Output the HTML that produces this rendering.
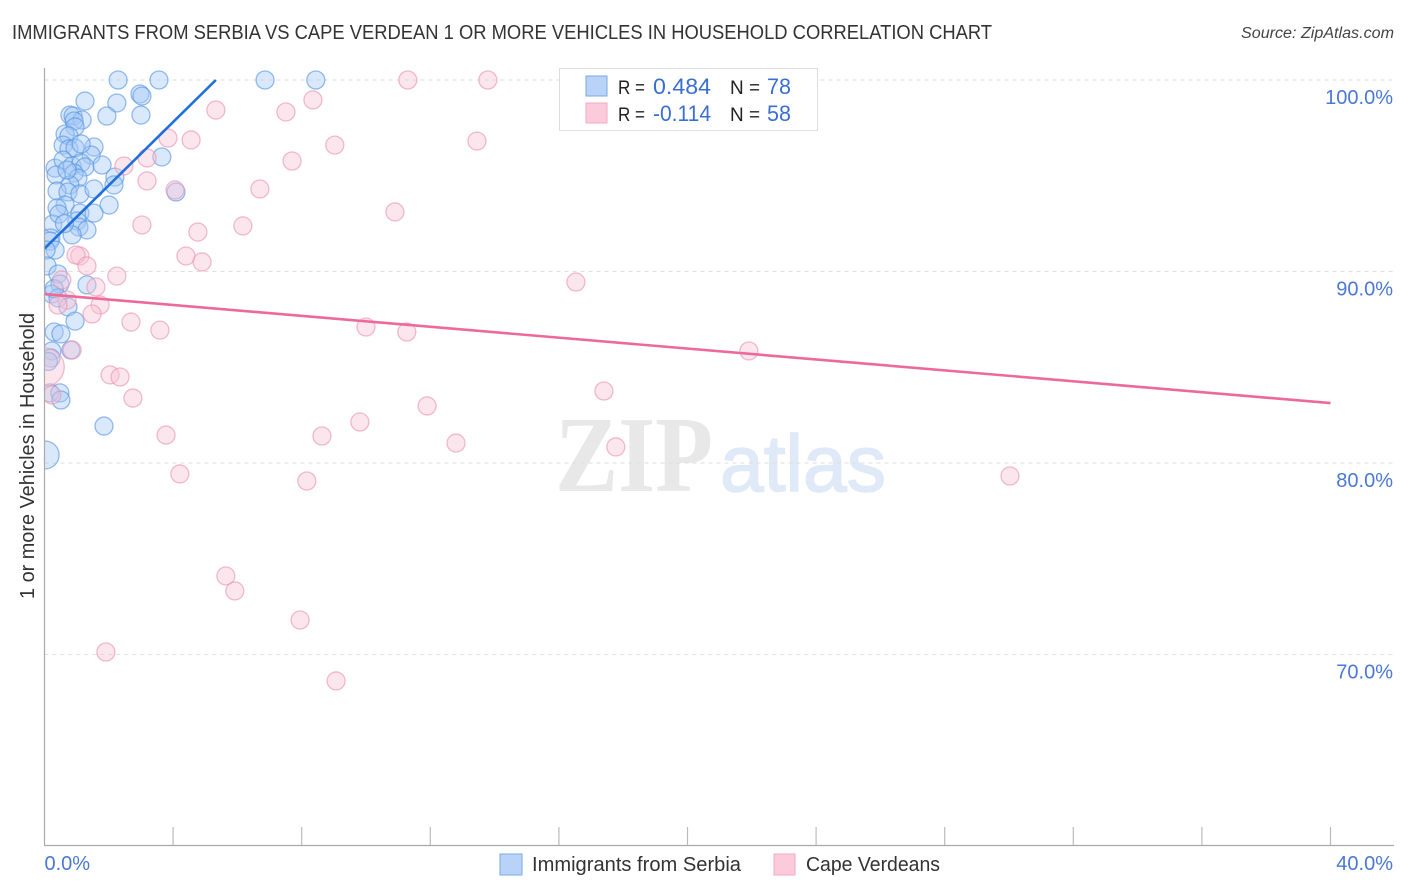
<!DOCTYPE html>
<html lang="en">
<head>
<meta charset="utf-8">
<title>Immigrants from Serbia vs Cape Verdean Correlation Chart</title>
<style>
html,body{margin:0;padding:0;background:#fff;}
svg{display:block;font-family:"Liberation Sans",sans-serif;}
</style>
</head>
<body>
<svg id="chart" width="1406" height="892" viewBox="0 0 1406 892" xmlns="http://www.w3.org/2000/svg">
<defs><clipPath id="plot-clip"><rect x="44.5" y="0" width="1350" height="845"/></clipPath></defs>
<text x="12" y="39" font-size="20" fill="#333" textLength="980" lengthAdjust="spacingAndGlyphs">IMMIGRANTS FROM SERBIA VS CAPE VERDEAN 1 OR MORE VEHICLES IN HOUSEHOLD CORRELATION CHART</text>
<text x="1241" y="38" font-size="15.5" font-style="italic" fill="#444" textLength="153" lengthAdjust="spacingAndGlyphs">Source: ZipAtlas.com</text>
<text x="555" y="491" font-family="'Liberation Serif',serif" font-weight="bold" font-size="108" fill="#e8e8e8" textLength="158" lengthAdjust="spacingAndGlyphs">ZIP</text>
<text x="720" y="491" font-size="80" fill="#dfe9f7" stroke="#dfe9f7" stroke-width="1.5" textLength="166" lengthAdjust="spacingAndGlyphs">atlas</text>
<g id="grid"></g>
<g id="points" clip-path="url(#plot-clip)"></g>
<g id="trends"></g>
<g id="axes"></g>
<text transform="translate(34,456) rotate(-90)" text-anchor="middle" font-size="20" fill="#333" textLength="286" lengthAdjust="spacingAndGlyphs">1 or more Vehicles in Household</text>
<g>
<rect x="559.5" y="68.5" width="258" height="62" fill="#fff" stroke="#ddd"/>
<rect x="586" y="76" width="21" height="20" fill="#b8d3f7" stroke="#7aa9e6"/>
<rect x="586" y="103" width="21" height="20" fill="#fccbdb" stroke="#f3a9c2"/>
<text x="618" y="94" font-size="19.5" fill="#222" textLength="27" lengthAdjust="spacingAndGlyphs">R =</text>
<text x="653" y="94" font-size="22" fill="#3a6fd0" textLength="58" lengthAdjust="spacingAndGlyphs">0.484</text>
<text x="730" y="94" font-size="19.5" fill="#222" textLength="30" lengthAdjust="spacingAndGlyphs">N =</text>
<text x="767" y="94" font-size="22" fill="#3a6fd0" textLength="24" lengthAdjust="spacingAndGlyphs">78</text>
<text x="618" y="121" font-size="19.5" fill="#222" textLength="27" lengthAdjust="spacingAndGlyphs">R =</text>
<text x="653" y="121" font-size="22" fill="#3a6fd0" textLength="58" lengthAdjust="spacingAndGlyphs">-0.114</text>
<text x="730" y="121" font-size="19.5" fill="#222" textLength="30" lengthAdjust="spacingAndGlyphs">N =</text>
<text x="767" y="121" font-size="22" fill="#3a6fd0" textLength="24" lengthAdjust="spacingAndGlyphs">58</text>
</g>
<g>
<rect x="500" y="854" width="22" height="21" fill="#b8d3f7" stroke="#7aa9e6"/>
<text x="532" y="871" font-size="20" fill="#333" textLength="209" lengthAdjust="spacingAndGlyphs">Immigrants from Serbia</text>
<rect x="774" y="854" width="21" height="21" fill="#fccbdb" stroke="#f3a9c2"/>
<text x="806" y="871" font-size="20" fill="#333" textLength="134" lengthAdjust="spacingAndGlyphs">Cape Verdeans</text>
</g>
</svg>
<script>
const yTickValues = [100, 90, 80, 70];
const yTickLabels = ['100.0%', '90.0%', '80.0%', '70.0%'];
const xTickValues = [0, 4, 8, 12, 16, 20, 24, 28, 32, 36, 40];
const xEndLabels = ['0.0%', '40.0%'];

const serbiaX = [2.29,3.56,6.86,8.44,1.26,2.97,3.03,2.25,1.94,3.00,0.79,0.89,1.17,0.92,0.95,0.64,0.76,0.58,0.76,1.54,1.45,0.95,1.14,3.65,0.33,0.58,0.86,1.14,1.26,1.79,0.36,0.92,1.04,2.19,2.16,0.79,0.39,0.73,1.10,1.54,4.09,0.64,0.39,2.01,1.10,1.54,0.26,1.01,1.07,1.32,0.86,0.20,0.17,0.33,0.05,0.08,0.42,0.48,1.32,0.23,0.42,0.73,0.95,0.30,0.51,0.82,0.23,0.20,0.17,0.48,0.51,1.85,0.02,0.30,0.45,0.62,0.70,0.12];
const serbiaY = [100,100,100,100,98.90,99.27,99.16,98.80,98.12,98.17,98.17,98.12,97.91,97.86,97.55,97.18,97.08,96.60,96.40,96.50,96.08,96.45,96.66,95.98,95.40,95.82,95.51,95.67,95.46,95.56,95.04,95.14,94.88,94.93,94.52,94.52,94.20,94.15,94.05,94.31,94.15,93.47,93.32,93.47,93.05,93.05,92.48,92.64,92.32,92.17,91.91,91.75,91.59,91.12,91.12,90.29,89.87,89.35,89.30,88.82,88.62,88.15,87.41,86.84,86.74,85.90,85.85,85.48,83.66,83.66,83.29,81.93,80.42,89.10,93.00,92.50,95.30,85.30];
const serbiaWeight = [1,1,1,1,1,1,1,1,1,1,1,1,1,1,1,1,1,1,1,1,1,1,1,1,1,1,1,1,1,1,1,1,1,1,1,1,1,1,1,1,1,1,1,1,1,1,1,1,1,1,1,1,1,1,1,1,1,1,1,1,1,1,1,1,1,1,1,1,1,1,1,1,2.4,1,1,1,1,1];

const capeX = [11.30,13.79,5.33,7.51,8.35,9.03,13.45,3.84,4.56,3.19,2.47,7.70,3.19,4.06,6.70,10.90,3.03,4.77,6.17,4.40,4.90,1.10,0.98,1.32,2.25,16.53,0.54,1.60,0.70,1.73,0.42,1.48,2.69,3.59,10.00,11.27,0.86,21.91,2.04,2.35,2.75,17.40,11.90,3.78,8.63,9.81,12.80,17.77,4.21,8.16,30.03,5.64,5.92,7.95,1.91,9.07,0.23,0.02];
const capeY = [100,100,98.43,98.33,98.96,96.60,96.81,96.97,96.87,95.93,95.51,95.77,94.73,94.26,94.31,93.11,92.43,92.06,92.38,90.81,90.50,90.81,90.86,90.29,89.76,89.45,89.56,89.19,88.51,88.25,88.25,87.78,87.36,86.94,87.10,86.84,85.90,85.85,84.60,84.49,83.39,83.76,82.98,81.46,81.41,82.14,81.04,80.84,79.43,79.06,79.32,74.10,73.32,71.80,70.13,68.62,83.55,85.01];
const capeWeight = [1,1,1,1,1,1,1,1,1,1,1,1,1,1,1,1,1,1,1,1,1,1,1,1,1,1,1,1,1,1,1,1,1,1,1,1,1,1,1,1,1,1,1,1,1,1,1,1,1,1,1,1,1,1,1,1,1,4.5];

const serbiaTrendX = [0, 5.33];
const serbiaTrendY = [91.2, 100];
const capeTrendX = [0, 40];
const capeTrendY = [88.82, 83.13];

const NS = 'http://www.w3.org/2000/svg';
function xScale(v) { return 44.5 + v * 32.15; }
function yScale(v) { return 80 + (100 - v) * 19.15; }
function make(tag, attrs, parent) {
  const el = document.createElementNS(NS, tag);
  for (const k in attrs) el.setAttribute(k, attrs[k]);
  parent.appendChild(el);
  return el;
}
const grid = document.getElementById('grid');
const axes = document.getElementById('axes');
const pts = document.getElementById('points');
const trends = document.getElementById('trends');

yTickValues.forEach((v, i) => {
  const y = yScale(v);
  const line = make('line', {x1: 44.5, x2: 1394, y1: y, y2: y, stroke: '#dedede', 'stroke-dasharray': '4 4'}, grid);
  
  
  const label = make('text', {x: 1393, y: y + 24, 'text-anchor': 'end', 'font-size': 20, fill: '#4a78d4'}, axes);
  label.textContent = yTickLabels[i];
  
  
});

const yAxis = make('line', {x1: 44.5, x2: 44.5, y1: 68, y2: 845, stroke: '#aaa', 'stroke-width': 1.2}, axes);


const xAxis = make('line', {x1: 44, x2: 1394, y1: 845.5, y2: 845.5, stroke: '#aaa', 'stroke-width': 1.2}, axes);



xTickValues.slice(1).forEach(v => {
  const x = xScale(v);
  const tick = make('line', {x1: x, x2: x, y1: 827, y2: 845, stroke: '#bbb', 'stroke-width': 1.2}, axes);
  
  
});

const xStart = make('text', {x: xScale(xTickValues[0]), y: 870, 'font-size': 20, fill: '#4a78d4'}, axes);
xStart.textContent = xEndLabels[0];


const xEnd = make('text', {x: 1393, y: 870, 'text-anchor': 'end', 'font-size': 20, fill: '#4a78d4'}, axes);
xEnd.textContent = xEndLabels[1];



function radius(w) { return 9 * Math.sqrt(w); }

serbiaX.forEach((v, i) => {
  const c = make('circle', {cx: xScale(v), cy: yScale(serbiaY[i]), r: radius(serbiaWeight[i]), fill: 'rgba(165,200,245,0.42)', stroke: 'rgba(85,148,228,0.62)', 'stroke-width': 1.3}, pts);
  
  
});
capeX.forEach((v, i) => {
  const c = make('circle', {cx: xScale(v), cy: yScale(capeY[i]), r: radius(capeWeight[i]), fill: 'rgba(249,195,213,0.42)', stroke: 'rgba(236,145,176,0.62)', 'stroke-width': 1.3}, pts);
  
  
});

const serbiaLine = make('line', {x1: xScale(serbiaTrendX[0]), y1: yScale(serbiaTrendY[0]), x2: xScale(serbiaTrendX[1]), y2: yScale(serbiaTrendY[1]), stroke: '#1f6fdc', 'stroke-width': 2.6}, trends);


const capeLine = make('line', {x1: xScale(capeTrendX[0]), y1: yScale(capeTrendY[0]), x2: xScale(capeTrendX[1]), y2: yScale(capeTrendY[1]), stroke: '#ec6a9a', 'stroke-width': 2.6}, trends);


</script>
</body>
</html>
